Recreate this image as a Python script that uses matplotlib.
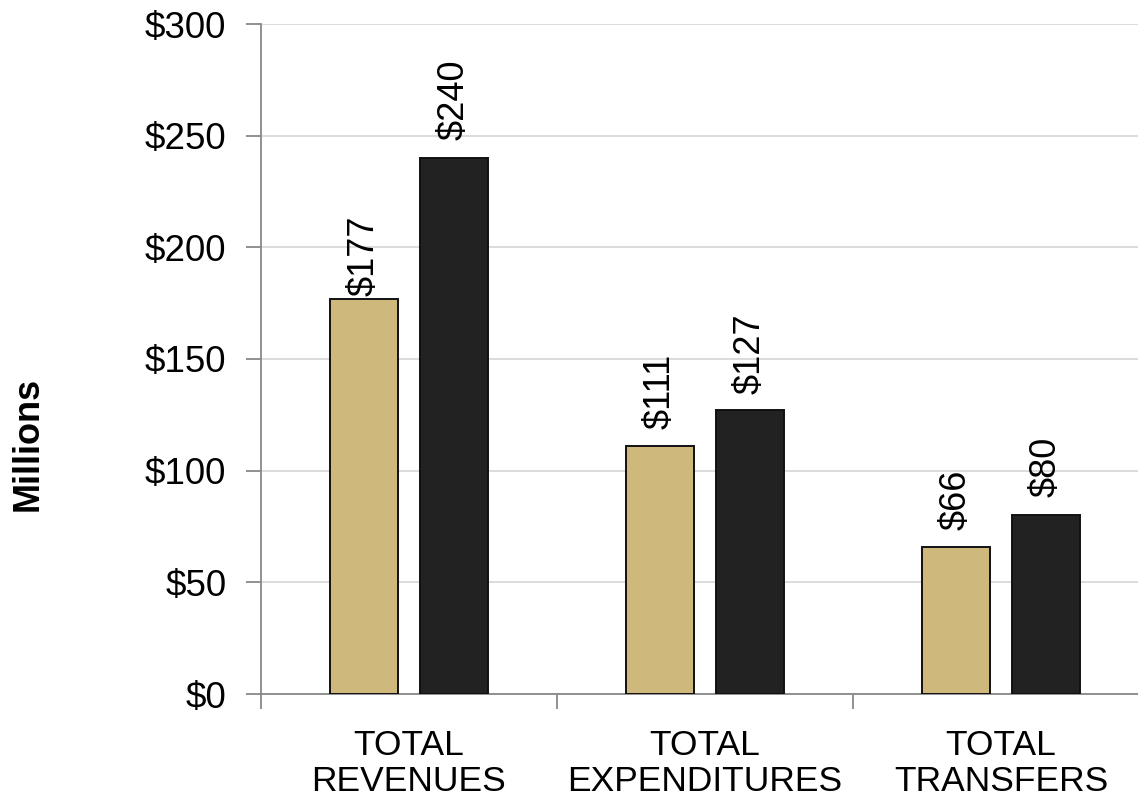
import matplotlib.pyplot as plt
import numpy as np

plt.rcParams['font.family'] = ['Liberation Sans', 'DejaVu Sans']

categories = ['TOTAL\nREVENUES', 'TOTAL\nEXPENDITURES', 'TOTAL\nTRANSFERS']
series_a = [177, 111, 66]
series_b = [240, 127, 80]
yticks = [0, 50, 100, 150, 200, 250, 300]

fig = plt.figure(figsize=(11.38, 7.98), dpi=100)
# axes run slightly past the right edge of the figure
ax = fig.add_axes([261 / 1138, 1 - 694 / 798, 888 / 1138, 670 / 798])

x = np.arange(len(categories))
w = 0.23
off = 0.152
bars_a = ax.bar(x - off, series_a, w, color='#CFB87C', edgecolor='#111111', linewidth=1.4, zorder=3)
bars_b = ax.bar(x + off, series_b, w, color='#222222', edgecolor='#111111', linewidth=1.4, zorder=3)

# gap (points) between bar top and its value label
gaps_a = [2, 12, 12]
gaps_b = [13, 12, 13]
for bars, vals, gaps in [(bars_a, series_a, gaps_a), (bars_b, series_b, gaps_b)]:
    for b, v, g in zip(bars, vals, gaps):
        ax.annotate(f'${v}', (b.get_x() + b.get_width() / 2, v), xytext=(0, g),
                    textcoords='offset points', rotation=90,
                    ha='center', va='bottom', fontsize=26, color='#000000', zorder=4)

ax.set_xlim(-0.5, 2.5)
ax.set_ylim(0, 300)
ax.set_yticks(yticks)
ax.set_yticklabels([f'${t}' for t in yticks], fontsize=26.5)
ax.yaxis.grid(True, color='#d9d9d9', linewidth=1.3, zorder=0)
ax.set_axisbelow(True)

ax.set_xticks(x)
ax.set_xticklabels(categories, fontsize=25.5, linespacing=1.12)
ax.tick_params(axis='x', length=0, pad=25)
ax.set_xticks([-0.5, 0.5, 1.5, 2.5], minor=True)
ax.tick_params(axis='x', which='minor', length=11, width=1.3, color='#888888', direction='out')
ax.tick_params(axis='y', length=11, width=1.3, color='#888888', direction='out', pad=14)

for s in ['top', 'right']:
    ax.spines[s].set_visible(False)
for s in ['left', 'bottom']:
    ax.spines[s].set_color('#888888')
    ax.spines[s].set_linewidth(1.3)

fig.text(28 / 1138, 1 - 444 / 798, 'Millions', rotation=90, fontsize=26,
         fontweight='bold', ha='center', va='center')

fig.savefig('out.png', dpi=100)
